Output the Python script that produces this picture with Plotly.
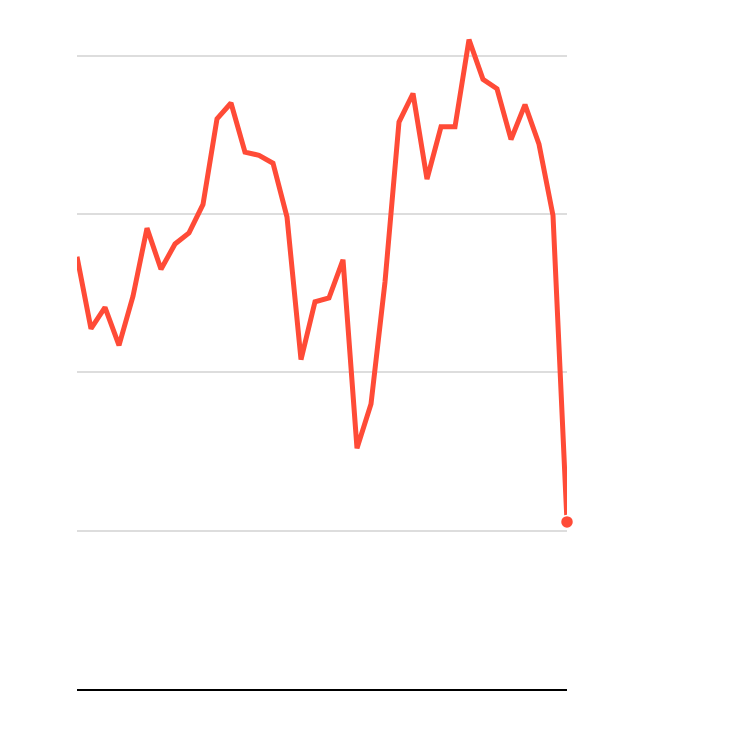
import plotly.graph_objects as go

periods = list(range(36))
values = [27.3, 22.75, 24.1, 21.7, 24.8, 29.1, 26.5, 28.1, 28.8, 30.6,
          36.0, 37.0, 33.9, 33.7, 33.2, 29.8, 20.8, 24.45, 24.7, 27.1,
          15.2, 18.0, 25.7, 35.8, 37.6, 32.2, 35.5, 35.5, 41.0, 38.5,
          37.9, 34.7, 36.9, 34.4, 29.9, 10.55]
grid_vals = [10, 20, 30, 40]

color = "#FF4B37"

fig = go.Figure()
fig.add_trace(go.Scatter(x=periods, y=values, mode="lines",
                         line=dict(color=color, width=5), hoverinfo="skip"))
fig.add_trace(go.Scatter(x=[periods[-1]], y=[values[-1]], mode="markers",
                         marker=dict(color=color, size=13, line=dict(color="white", width=1.5)),
                         cliponaxis=False, hoverinfo="skip"))

fig.update_layout(
    width=742, height=742,
    margin=dict(l=69, r=183, t=0, b=61),
    plot_bgcolor="white", paper_bgcolor="white",
    showlegend=False,
    xaxis=dict(range=[0, 35], showgrid=False, zeroline=False, showticklabels=False,
               showline=True, linecolor="black", linewidth=2, ticks=""),
    yaxis=dict(range=[0, 43], tickvals=grid_vals, showticklabels=False,
               gridcolor="#DDDDDD", gridwidth=2, zeroline=False, ticks=""),
)

fig.write_html("out.html")
